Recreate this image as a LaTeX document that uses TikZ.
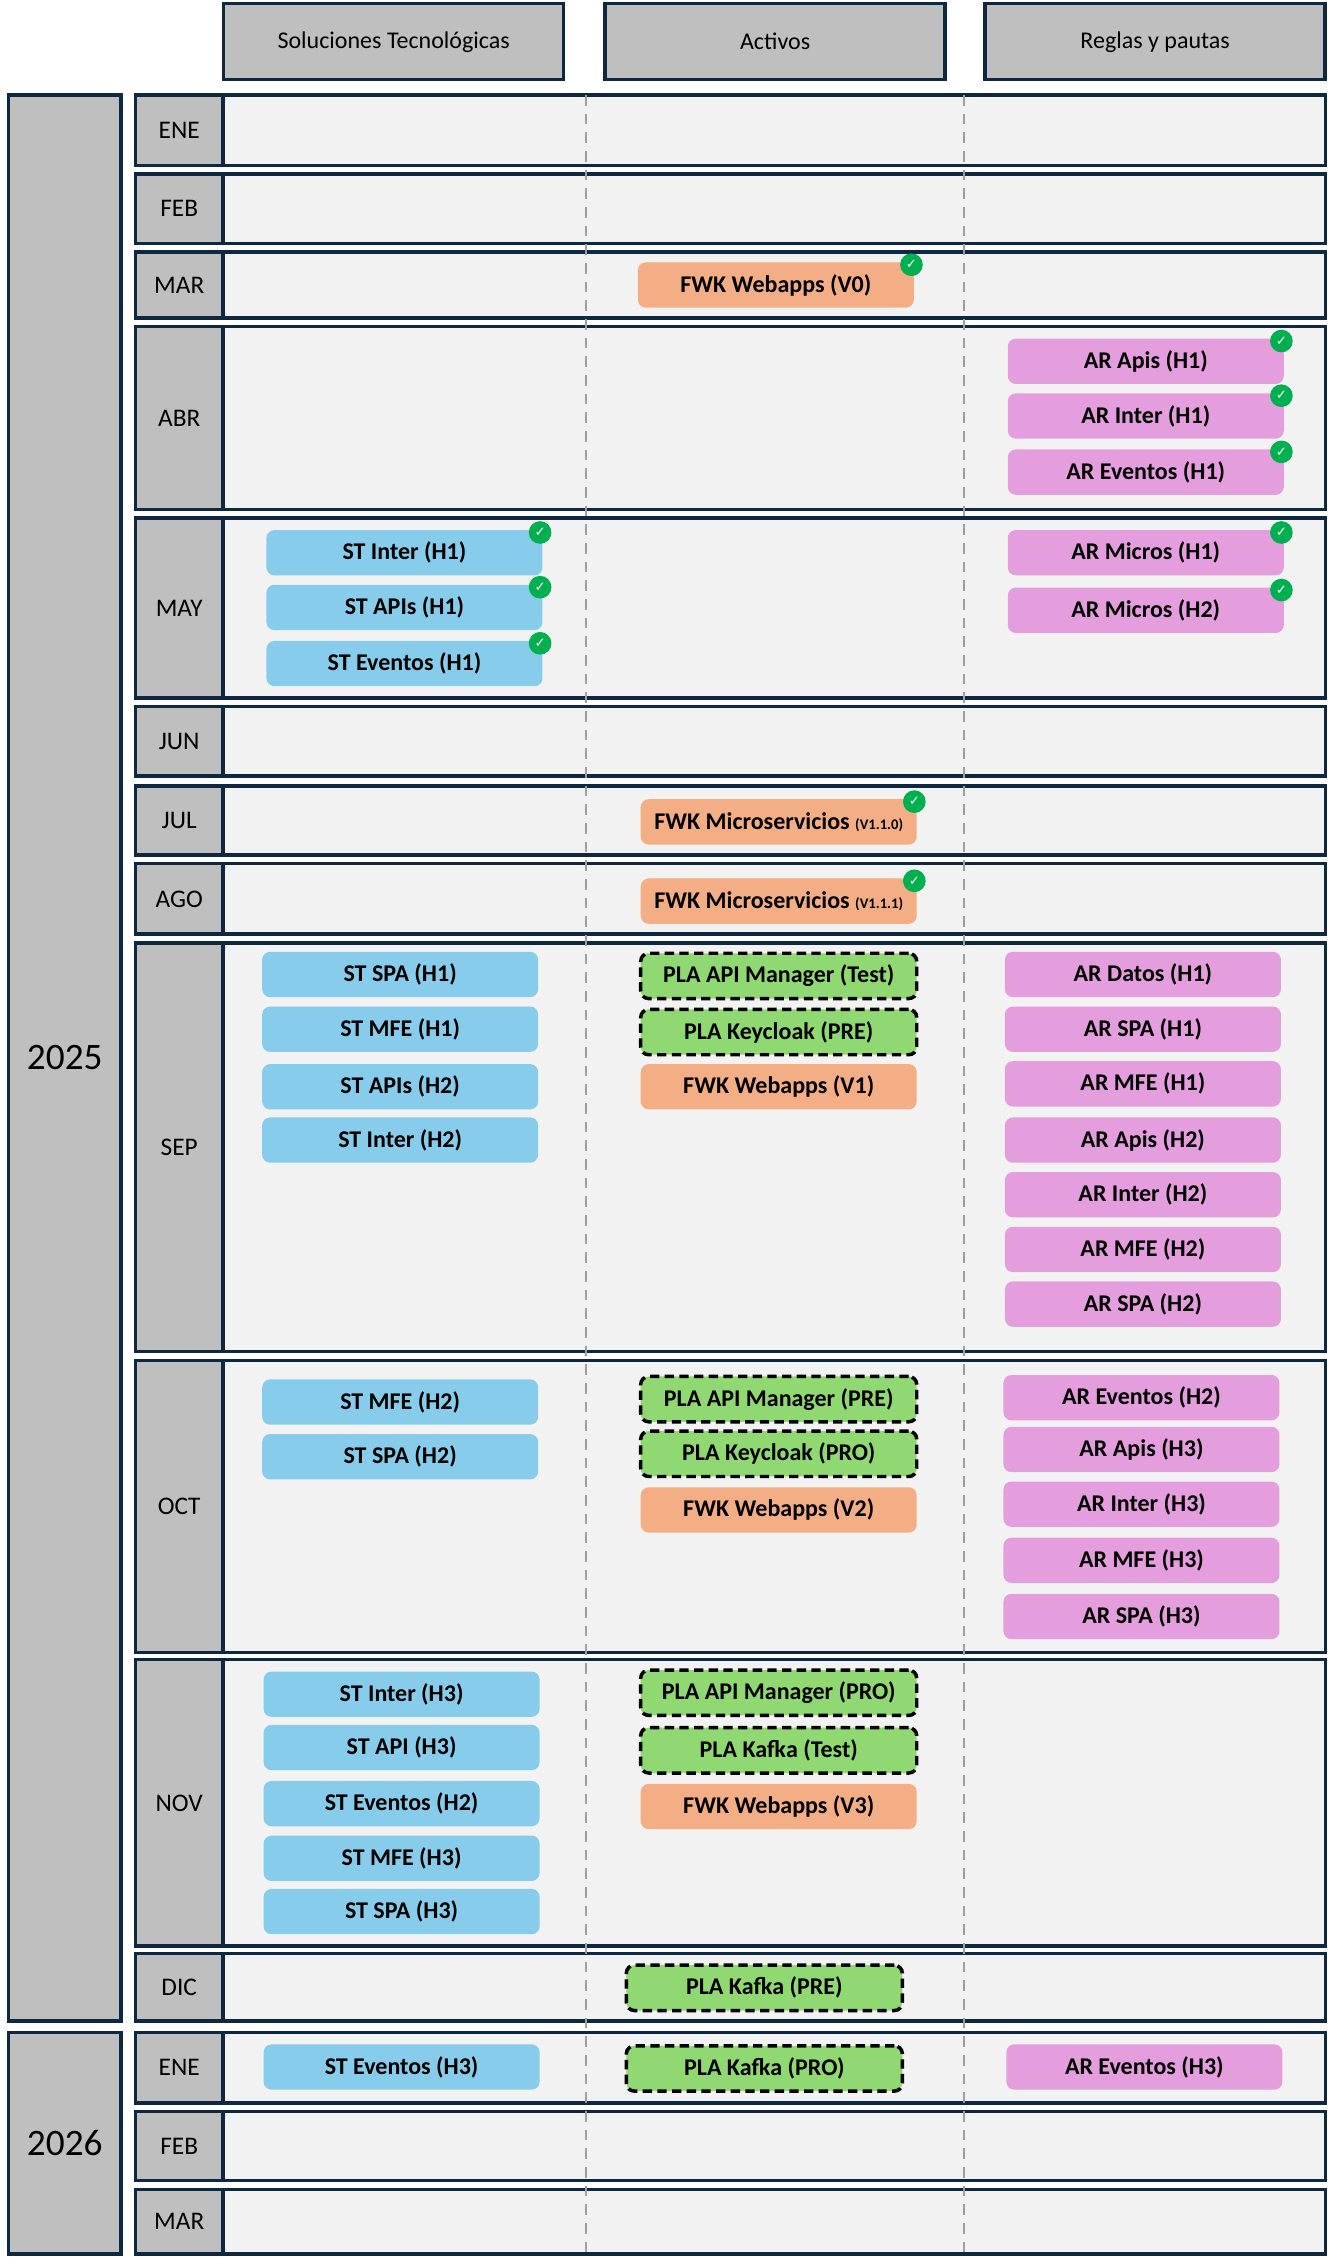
\documentclass[tikz,border=0pt]{standalone}
\usepackage{fontspec}
\setmainfont{Carlito}
\newfontfamily\dv{DejaVu Sans}
\usetikzlibrary{positioning}
\definecolor{bd}{HTML}{0E2841}
\definecolor{rowbg}{HTML}{F2F2F2}
\definecolor{lab}{HTML}{BFBFBF}
\definecolor{stc}{HTML}{87CDEB}
\definecolor{orc}{HTML}{F4AE85}
\definecolor{pkc}{HTML}{E59EDD}
\definecolor{grc}{HTML}{90D872}
\definecolor{chc}{HTML}{00B050}
\tikzset{
 item/.style={rounded corners=6pt,minimum width=207pt,minimum height=34pt,inner sep=1pt,font=\fontsize{18}{20}\selectfont\bfseries},
 st/.style={item,fill=stc},
 fw/.style={item,fill=orc},
 ar/.style={item,fill=pkc},
 pla/.style={item,fill=grc,draw=black,line width=2.6pt,dash pattern=on 7pt off 4pt},
 chk/.style={circle,fill=chc,inner sep=0pt,minimum size=17pt,text=white,font=\dv\fontsize{10}{10}\selectfont\bfseries},
 hdr/.style={draw=bd,line width=2.6pt,fill=lab,font=\fontsize{18}{20}\selectfont},
}
\newcommand{\mrow}[3]{%
 \draw[bd,line width=2.6pt,fill=rowbg] (94,#1) rectangle (921,#2);
 \draw[bd,line width=2.6pt,fill=lab] (94,#1) rectangle (155,#2);
 \node[font=\fontsize{19}{20}\selectfont] at (124.5,{(#1+#2)/2}) {#3};}
\newcommand{\ck}[1]{\node[chk] at ([xshift=-2pt,yshift=-2pt]#1.north east) {✓};}
\begin{document}
\begin{tikzpicture}[x=1.0795pt,y=-1.0795pt]
\useasboundingbox[fill=white] (0,0) rectangle (924,1568);
% headers
\node[hdr,minimum width=255pt,minimum height=57pt] (h1) at (273.5,29) {Soluciones Tecnológicas};
\node[hdr,minimum width=255pt,minimum height=57pt] (h2) at (538.5,29) {Activos};
\node[hdr,minimum width=255pt,minimum height=57pt] (h3) at (802.5,29) {Reglas y pautas};
% years
\draw[bd,line width=2.6pt,fill=lab] (6,66) rectangle (84,1404);
\node[font=\fontsize{28}{30}\selectfont] (y1) at (45,735) {2025};
\draw[bd,line width=2.6pt,fill=lab] (6,1412) rectangle (84,1566);
\node[font=\fontsize{28}{30}\selectfont] (y2) at (45,1489) {2026};
% months
\mrow{66}{115}{ENE}
\mrow{121}{169}{FEB}
\mrow{175}{221}{MAR}
\mrow{227}{354}{ABR}
\mrow{360}{485}{MAY}
\mrow{491}{539}{JUN}
\mrow{546}{594}{JUL}
\mrow{600}{649}{AGO}
\mrow{655}{939}{SEP}
\mrow{945}{1148}{OCT}
\mrow{1153}{1352}{NOV}
\mrow{1357}{1404}{DIC}
\mrow{1412}{1461}{ENE}
\mrow{1467}{1515}{FEB}
\mrow{1521}{1566}{MAR}
% dashed separators
\draw[gray!75,line width=1.6pt,dash pattern=on 8pt off 6pt] (407,66) -- (407,1566);
\draw[gray!75,line width=1.6pt,dash pattern=on 8pt off 6pt] (670,66) -- (670,1566);
% MAR
\node[fw] (a1) at (539,198) {FWK Webapps (V0)}; \ck{a1}
% ABR
\node[ar] (r1) at (796,251) {AR Apis (H1)}; \ck{r1}
\node[ar] (r2) at (796,289) {AR Inter (H1)}; \ck{r2}
\node[ar] (r3) at (796,328) {AR Eventos (H1)}; \ck{r3}
% MAY
\node[st] (s1) at (281,384) {ST Inter (H1)}; \ck{s1}
\node[st] (s2) at (281,422) {ST APIs (H1)}; \ck{s2}
\node[st] (s3) at (281,461) {ST Eventos (H1)}; \ck{s3}
\node[ar] (r4) at (796,384) {AR Micros (H1)}; \ck{r4}
\node[ar] (r5) at (796,424) {AR Micros (H2)}; \ck{r5}
% JUL AGO
\node[fw] (a2) at (541,571) {FWK Microservicios {\fontsize{11}{12}\selectfont (V1.1.0)}}; \ck{a2}
\node[fw] (a3) at (541,626) {FWK Microservicios {\fontsize{11}{12}\selectfont (V1.1.1)}}; \ck{a3}
% SEP
\node[st] (s4) at (278,677) {ST SPA (H1)};
\node[st] (s5) at (278,715) {ST MFE (H1)};
\node[st] (s6) at (278,755) {ST APIs (H2)};
\node[st] (s7) at (278,792) {ST Inter (H2)};
\node[pla] (p1) at (541,678) {PLA API Manager (Test)};
\node[pla] (p2) at (541,717) {PLA Keycloak (PRE)};
\node[fw] (a4) at (541,755) {FWK Webapps (V1)};
\node[ar] (r6) at (794,677) {AR Datos (H1)};
\node[ar] (r7) at (794,715) {AR SPA (H1)};
\node[ar] (r8) at (794,753) {AR MFE (H1)};
\node[ar] (r9) at (794,792) {AR Apis (H2)};
\node[ar] (r10) at (794,830) {AR Inter (H2)};
\node[ar] (r11) at (794,868) {AR MFE (H2)};
\node[ar] (r12) at (794,906) {AR SPA (H2)};
% OCT
\node[st] (s8) at (278,974) {ST MFE (H2)};
\node[st] (s9) at (278,1012) {ST SPA (H2)};
\node[pla] (p3) at (541,972) {PLA API Manager (PRE)};
\node[pla] (p4) at (541,1010) {PLA Keycloak (PRO)};
\node[fw] (a5) at (541,1049) {FWK Webapps (V2)};
\node[ar] (r13) at (793,971) {AR Eventos (H2)};
\node[ar] (r14) at (793,1007) {AR Apis (H3)};
\node[ar] (r15) at (793,1045) {AR Inter (H3)};
\node[ar] (r16) at (793,1084) {AR MFE (H3)};
\node[ar] (r17) at (793,1123) {AR SPA (H3)};
% NOV
\node[st] (s10) at (279,1177) {ST Inter (H3)};
\node[st] (s11) at (279,1214) {ST API (H3)};
\node[st] (s12) at (279,1253) {ST Eventos (H2)};
\node[st] (s13) at (279,1291) {ST MFE (H3)};
\node[st] (s14) at (279,1328) {ST SPA (H3)};
\node[pla] (p5) at (541,1176) {PLA API Manager (PRO)};
\node[pla] (p6) at (541,1216) {PLA Kafka (Test)};
\node[fw] (a6) at (541,1255) {FWK Webapps (V3)};
% DIC
\node[pla] (p7) at (531,1381) {PLA Kafka (PRE)};
% ENE 2026
\node[st] (s15) at (279,1436) {ST Eventos (H3)};
\node[pla] (p8) at (531,1437) {PLA Kafka (PRO)};
\node[ar] (r18) at (795,1436) {AR Eventos (H3)};
\end{tikzpicture}
\end{document}
